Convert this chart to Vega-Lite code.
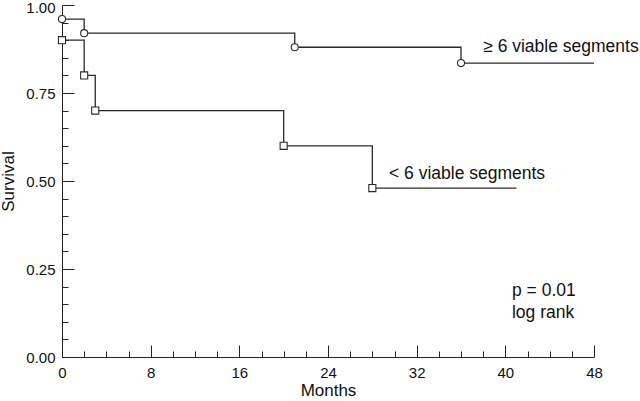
{
  "$schema": "https://vega.github.io/schema/vega-lite/v6.json",
  "autosize": {"type": "none"},
  "padding": {"left": 62, "top": 5, "right": 46, "bottom": 44},
  "width": 532,
  "height": 352,
  "background": "white",
  "config": {
    "view": {"stroke": null},
    "font": "Liberation Sans",
    "axis": {
      "domainColor": "#222",
      "tickColor": "#222",
      "labelColor": "#111",
      "titleColor": "#111",
      "labelFont": "Liberation Sans",
      "titleFont": "Liberation Sans",
      "labelFontSize": 15,
      "titleFontSize": 17,
      "titleFontWeight": "normal",
      "grid": false,
      "domainWidth": 1,
      "tickWidth": 1,
      "labelFlush": false,
      "labelOverlap": false
    }
  },
  "datasets": {
    "curves": [
      {"group": "ge6", "month": 0, "survival": 0.96, "event": true},
      {"group": "ge6", "month": 2, "survival": 0.92, "event": true},
      {"group": "ge6", "month": 21, "survival": 0.88, "event": true},
      {"group": "ge6", "month": 36, "survival": 0.835, "event": true},
      {"group": "ge6", "month": 48, "survival": 0.835, "event": false},
      {"group": "lt6", "month": 0, "survival": 0.90, "event": true},
      {"group": "lt6", "month": 2, "survival": 0.80, "event": true},
      {"group": "lt6", "month": 3, "survival": 0.70, "event": true},
      {"group": "lt6", "month": 20, "survival": 0.60, "event": true},
      {"group": "lt6", "month": 28, "survival": 0.48, "event": true},
      {"group": "lt6", "month": 41, "survival": 0.48, "event": false}
    ],
    "notes": [
      {"text": "≥ 6 viable segments", "month": 38, "survival": 0.88},
      {"text": "< 6 viable segments", "month": 29.5, "survival": 0.521},
      {"text": "p = 0.01", "month": 40.6, "survival": 0.188},
      {"text": "log rank", "month": 40.6, "survival": 0.125}
    ]
  },
  "resolve": {"axis": {"x": "independent", "y": "independent"}, "scale": {"x": "shared", "y": "shared"}},
  "layer": [
    {
      "data": {"name": "curves"},
      "mark": {"type": "line", "interpolate": "step-after", "color": "#2a2a2a", "strokeWidth": 1.3},
      "encoding": {
        "x": {
          "field": "month", "type": "quantitative",
          "scale": {"domain": [0, 48], "nice": false},
          "axis": {
            "orient": "bottom",
            "title": "Months",
            "values": [0, 8, 16, 24, 32, 40, 48],
            "tickSize": -12,
            "labelPadding": 20,
            "titlePadding": 2
          }
        },
        "y": {
          "field": "survival", "type": "quantitative",
          "scale": {"domain": [0, 1], "nice": false},
          "axis": {
            "orient": "left",
            "title": "Survival",
            "values": [0, 0.25, 0.5, 0.75, 1],
            "format": ".2f",
            "tickSize": -12,
            "labelPadding": 19,
            "labelOffset": {"condition": {"test": "datum.value === 1", "value": 2}, "value": 0},
            "titlePadding": 8
          }
        },
        "detail": {"field": "group"}
      }
    },
    {
      "data": {"name": "curves"},
      "transform": [{"filter": "datum.event"}],
      "mark": {"type": "point", "filled": true, "fill": "white", "stroke": "#2a2a2a", "strokeWidth": 1.1, "size": 50, "opacity": 1},
      "encoding": {
        "x": {
          "field": "month", "type": "quantitative",
          "axis": {
            "orient": "bottom",
            "title": null,
            "labels": false,
            "domain": false,
            "values": [2,4,6,10,12,14,18,20,22,26,28,30,34,36,38,42,44,46],
            "tickSize": -6
          }
        },
        "y": {
          "field": "survival", "type": "quantitative",
          "axis": {
            "orient": "left",
            "title": null,
            "labels": false,
            "domain": false,
            "values": [0.05,0.1,0.15,0.2,0.3,0.35,0.4,0.45,0.55,0.6,0.65,0.7,0.8,0.85,0.9,0.95],
            "tickSize": -6
          }
        },
        "shape": {
          "field": "group", "type": "nominal",
          "scale": {"domain": ["ge6", "lt6"], "range": ["circle", "square"]},
          "legend": null
        }
      }
    },
    {
      "data": {"name": "notes"},
      "mark": {"type": "text", "align": "left", "baseline": "middle", "fontSize": 17.5, "font": "Liberation Sans", "color": "#111"},
      "encoding": {
        "x": {"field": "month", "type": "quantitative", "axis": null},
        "y": {"field": "survival", "type": "quantitative", "axis": null},
        "text": {"field": "text"}
      }
    }
  ]
}
